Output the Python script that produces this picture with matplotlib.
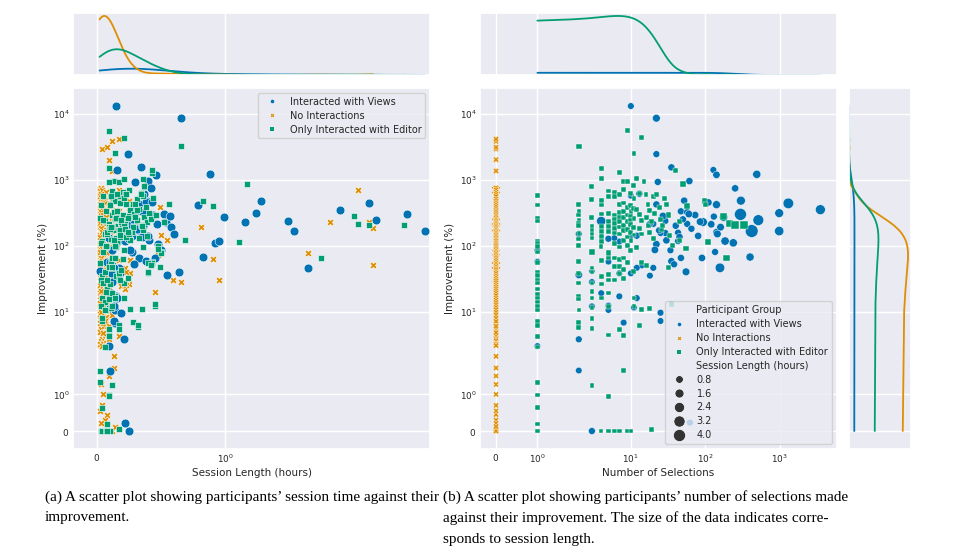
import numpy as np
import pandas as pd
import matplotlib
matplotlib.use("Agg")
import matplotlib.pyplot as plt
from matplotlib.lines import Line2D
import seaborn as sns

sns.set_theme(style="darkgrid")
plt.rcParams["font.family"] = ["DejaVu Sans"]
plt.rcParams["xtick.labelsize"] = 6.4
plt.rcParams["ytick.labelsize"] = 6.4
plt.rcParams["axes.labelsize"] = 7.5
plt.rcParams["legend.fontsize"] = 7.0
plt.rcParams["legend.labelspacing"] = 0.4
plt.rcParams["xtick.major.size"] = 0
plt.rcParams["ytick.major.size"] = 0
plt.rcParams["xtick.minor.size"] = 0
plt.rcParams["ytick.minor.size"] = 0
plt.rcParams["xtick.major.pad"] = 2.5
plt.rcParams["ytick.major.pad"] = 2.5

groups = ["Interacted with Views", "No Interactions", "Only Interacted with Editor"]
group_colors = ["#0173b2", "#de8f05", "#029e73"]
group_markers = ["o", "X", "s"]
size_legend_values = [0.8, 1.6, 2.4, 3.2, 4.0]

# ---------------- Interacted with Views ----------------
views_session = [
    0.15, 0.66, 0.24, 0.34, 0.30, 0.40, 0.16, 0.46, 0.885, 0.42,
    1.28, 0.39, 2.35, 1.90, 1.24, 3.43, 2.51, 4.10, 1.54, 1.65,
    0.83, 0.92, 0.95, 1.16, 0.79, 0.99, 1.49, 0.28, 0.35, 0.27,
    0.45, 0.33, 0.64, 0.22, 0.31, 0.36, 0.44, 0.25, 0.20, 0.38,
    0.29, 0.26, 0.41, 0.23, 0.19, 0.30, 0.21, 0.32, 0.48, 0.50,
    0.17, 0.14, 0.12, 0.13, 0.27, 0.18, 0.12, 0.37, 0.33, 0.20,
    0.11, 0.10, 0.16, 0.14, 0.15, 0.18, 0.09, 0.25, 0.08, 0.13,
    0.14, 0.11, 0.12, 0.13, 0.25, 0.55, 0.21, 0.10, 0.12, 0.10,
    0.09, 0.22, 0.185, 0.13, 0.38, 0.43, 0.52, 0.20, 0.36, 0.28,
    0.31, 0.40, 0.35, 0.54, 0.47, 0.58, 0.60, 0.16, 0.02, 0.57,
]
views_selections = [
    10, 22, 22, 35, 23, 61, 128, 141, 490, 251,
    300, 52, 1300, 3500, 980, 296, 514, 419, 980, 157,
    398, 237, 184, 93, 141, 176, 4, 130, 141, 135,
    90, 47, 55, 43, 47, 57, 73, 57, 43, 35,
    38, 34, 30, 29, 25, 29, 20, 24, 22, 21,
    20, 18, 14, 12, 12, 10, 10, 13, 22, 18,
    10, 11, 7, 8, 7, 7, 6, 5, 5, 5,
    5, 4, 3, 3, 3, 2, 2, 2, 1, 1,
    1, 62, 25, 25, 100, 110, 60, 2, 40, 50,
    65, 80, 45, 85, 120, 160, 145, 12, 3, 27,
]
views_improvement = [
    13000, 8500, 2430, 1530, 920, 950, 1400, 1180, 1200, 736,
    479, 479, 436, 350, 310, 297, 243, 166, 166, 46,
    67, 110, 117, 227, 417, 268, 235, 275, 160, 80,
    65, 65, 40, 117, 330, 320, 290, 213, 157, 58,
    52, 85, 120, 155, 155, 237, 213, 170, 105, 86,
    46, 35, 50, 46, 141, 141, 570, 610, 420, 213,
    38, 11.5, 115, 6.8, 17, 38, 130, 127, 57, 12.3,
    10.6, 19, 28, 12, 0, 36, 3.8, 1.65, 85, 57,
    3.0, 0.23, 9.6, 7.2, 450, 450, 300, 150, 200, 250,
    180, 140, 135, 230, 210, 190, 150, 16, 41, 280,
]

# ---------------- No Interactions (all at 0 selections) ----------------
none_session = [
    0.04, 0.08, 0.12, 0.17, 0.09, 0.12, 0.17, 0.16, 0.25, 0.25,
    0.23, 0.10,
    2.11, 1.82, 2.45, 2.35, 2.45, 1.65, 0.81, 0.91, 0.95, 0.59,
    0.66, 0.45, 0.48, 0.49, 0.50, 0.55,
    0.31, 0.26, 0.26, 0.25, 0.19, 0.17, 0.135, 0.09, 0.09, 0.09,
    0.08, 0.17, 0.17, 0.17, 0.13, 0.17, 0.17, 0.18, 0.22, 0.23,
    0.22, 0.23, 0.13, 0.11, 0.14, 0.10, 0.15, 0.12, 0.14, 0.11,
    0.13, 0.10,
    0.03, 0.05, 0.04, 0.06, 0.03, 0.02, 0.03, 0.05, 0.07, 0.12,
    0.17, 0.09, 0.14,
    0.02, 0.04, 0.02, 0.05, 0.03, 0.06, 0.02, 0.04, 0.07, 0.03,
    0.02, 0.05, 0.02, 0.08, 0.04, 0.03, 0.06, 0.02, 0.05, 0.02,
    0.04, 0.07, 0.03, 0.02, 0.06, 0.04, 0.02, 0.05, 0.03, 0.08,
    0.02, 0.04, 0.06, 0.03, 0.02, 0.05, 0.02, 0.07, 0.04, 0.03,
    0.06, 0.02, 0.05, 0.02, 0.04, 0.03, 0.08, 0.02, 0.06, 0.04,
    0.03, 0.05, 0.02, 0.07, 0.02, 0.04, 0.06, 0.03, 0.05, 0.02,
    0.04, 0.02, 0.06, 0.03, 0.05, 0.02, 0.04, 0.07, 0.03, 0.02,
    0.05, 0.04, 0.03, 0.02,
    0.03, 0.02, 0.05, 0.02, 0.04, 0.06, 0.03, 0.02, 0.05, 0.04,
    0.02, 0.07, 0.03, 0.05, 0.02, 0.04, 0.06, 0.03, 0.02, 0.05,
    0.02, 0.04, 0.08, 0.03, 0.05, 0.02, 0.06, 0.04, 0.02, 0.03,
    0.05, 0.02, 0.07, 0.04, 0.03, 0.06, 0.02, 0.05, 0.02, 0.04,
    0.03, 0.06, 0.02, 0.05, 0.04, 0.02, 0.03, 0.07, 0.02, 0.05,
    0.04, 0.03, 0.06, 0.02, 0.04, 0.05, 0.02, 0.03, 0.06, 0.02,
    0.04, 0.05, 0.03, 0.02, 0.07, 0.04, 0.02, 0.05, 0.03, 0.02,
    0.06, 0.04, 0.03, 0.05, 0.02, 0.04, 0.10, 0.11, 0.09, 0.10,
    0.04, 0.07, 0.03, 0.10, 0.05, 0.12, 0.06, 0.02, 0.09, 0.04,
    0.08, 0.03, 0.11, 0.05, 0.07, 0.13, 0.04, 0.06, 0.02, 0.09,
    0.05, 0.10, 0.03, 0.07, 0.12, 0.04, 0.08, 0.06, 0.02, 0.11,
    0.05, 0.09, 0.03, 0.07, 0.14, 0.04, 0.06, 0.10, 0.02, 0.08,
    0.05, 0.12, 0.03, 0.07, 0.04, 0.09, 0.06, 0.11, 0.02, 0.05,
    0.08, 0.03, 0.10, 0.06, 0.04, 0.13, 0.07, 0.02, 0.09, 0.05,
    0.03, 0.11, 0.06, 0.04, 0.08, 0.02, 0.10, 0.05, 0.07, 0.03,
    0.12, 0.04, 0.06, 0.09, 0.05,
]
none_improvement = [
    2900, 3100, 3800, 4100, 2000, 1350, 690, 490, 480, 370,
    225, 300,
    692, 230, 185, 230, 50, 78, 190, 62, 30, 30,
    28, 20, 73, 380, 145, 122,
    64, 61, 38, 26, 24, 4.3, 1.72, 1.5, 3.8, 6.3,
    0.45, 500, 330, 260, 200, 190, 60, 33, 45, 40,
    22, 25, 250, 160, 95, 45, 340, 120, 14, 9,
    2.1, 17,
    1.27, 1.0, 0.7, 0.3, 0.21, 0.55, 0, 0, 0, 0,
    0.05, 0, 0.12,
    720, 660, 615, 590, 545, 505, 470, 440, 400, 372,
    350, 318, 302, 284, 268, 252, 241, 226, 214, 203,
    196, 184, 176, 168, 157, 149, 143, 133, 127, 119,
    111, 106, 98, 94, 87, 82, 79, 72, 70, 64,
    62, 56, 53, 50, 46, 43, 39, 37, 34, 32,
    29, 27, 25.5, 23, 21, 19.5, 18, 16.3, 15.2, 13.6,
    12.4, 11.3, 10.4, 9.6, 8.6, 7.8, 7.2, 6.5, 5.8, 5.0,
    4.6, 4.0, 3.5, 3.1,
    750, 680, 630, 570, 520, 480, 455, 415, 385, 360,
    335, 310, 292, 276, 262, 246, 233, 220, 209, 199,
    189, 179, 171, 162, 153, 146, 138, 130, 123, 116,
    109, 102, 96, 90, 85, 80, 75, 71, 67, 63,
    59, 55, 52, 48, 45, 42, 40, 36, 33, 31,
    28, 26, 24, 22, 20, 18.5, 17, 15.8, 14.5, 13.2,
    12, 11, 10, 9.1, 8.3, 7.5, 6.8, 6.1, 5.5, 4.9,
    4.4, 3.8, 3.6, 3.3, 3.2, 3.05, 160, 240, 95, 58,
    700, 640, 600, 555, 510, 475, 445, 420, 392, 366,
    342, 325, 305, 288, 272, 258, 245, 234, 222, 211,
    201, 192, 182, 173, 165, 158, 150, 144, 136, 129,
    122, 117, 110, 104, 99, 93, 89, 84, 80, 76,
    72, 68, 65, 61, 58, 54, 51, 48, 45, 43,
    40, 38, 35, 33, 31, 29, 27, 25, 23.5, 22,
    20.5, 19, 17.5, 16, 14.8, 13.7, 12.6, 11.6, 10.7, 9.8,
    8.9, 8.0, 7.1, 6.0, 4.8,
]
none_selections = [0] * len(none_improvement)

# ---------------- Only Interacted with Editor ----------------
editor_selections = [
    1, 1, 1, 1, 1, 1, 1, 1, 1, 1, 1, 1, 1, 1, 1, 1, 1, 1, 1, 1, 1, 1, 1, 1, 1, 1, 1, 1,
    2, 2, 2, 2, 2, 2, 2, 2, 2, 2, 2, 2, 2, 2, 2, 2, 2, 2,
    3, 3, 3, 3, 3, 3, 3, 3, 3, 3, 3, 3, 3, 3, 3, 3, 3,
    4, 4, 4, 4, 4, 4, 4, 4, 4, 4, 4, 4, 4, 4, 4,
    5, 5, 5, 5, 5, 5, 5, 5, 5, 5, 5, 5, 5, 5, 5,
    6, 6, 6, 6, 6, 6, 6, 6, 6, 6, 6, 6,
    7, 7, 7, 7, 7, 7, 7, 7, 7, 7, 7, 7, 7, 7,
    8, 8, 8, 8, 8, 8, 8, 8, 8, 8, 8, 8, 8,
    9, 9, 9, 9, 9, 9, 9, 9, 9, 9,
    10, 10, 10, 10, 10, 10, 10, 10, 10, 10,
    11, 11, 11, 11, 11, 11, 11, 11, 11, 11,
    12, 12, 13, 13, 13, 14, 14, 14, 14, 12, 13, 14,
    15, 16, 16, 17, 17, 18, 18, 18, 19, 20, 20, 21, 19, 16,
    22, 24, 25, 26, 28, 30, 32, 33, 35, 36, 27, 32,
    40, 50, 57, 45, 55,
    97, 100, 210, 250, 330, 190, 175, 110, 45,
]
editor_improvement = [
    569, 412, 258, 237, 117, 108, 96, 80, 55, 40, 35, 30, 27, 22, 18, 16, 14, 12,
    10.5, 7.1, 6.2, 4.2, 2.9, 1.33, 0.98, 0.64, 0.19, 0,
    3200, 421, 330, 290, 240, 215, 200, 152, 125, 100, 57, 38, 27, 17, 15.5, 10.5, 6.9, 5.8,
    780, 500, 270, 193, 170, 150, 130, 80, 46, 40, 27, 20, 16, 11.4, 7.9, 5.5, 1.25,
    1480, 1030, 480, 410, 300, 193, 162, 137, 116, 97, 59, 34, 26, 16, 0,
    670, 560, 305, 232, 193, 162, 77, 65, 36, 30, 19, 12, 4.4, 0.95, 0,
    640, 560, 290, 250, 215, 180, 155, 108, 65, 48, 30, 0,
    1270, 600, 420, 320, 270, 230, 190, 150, 95, 62, 48, 38, 5.4, 0,
    940, 700, 440, 330, 265, 200, 170, 120, 65, 43, 32, 4.3, 1.65,
    5500, 930, 380, 290, 235, 175, 135, 100, 55, 0,
    610, 400, 330, 280, 245, 205, 160, 120, 85, 0,
    2500, 800, 520, 360, 260, 190, 145, 40, 16, 12,
    1030, 350, 620, 300, 180, 4300, 240, 150, 10.8, 95, 6.2, 55,
    930, 600, 270, 420, 200, 340, 160, 11, 230, 560, 130, 310, 0.05, 50,
    600, 380, 250, 175, 520, 420, 290, 140, 13, 100, 200, 47,
    1380, 860, 400, 230, 90,
    470, 420, 215, 205, 205, 65, 280, 113, 120,
]
editor_session = [
    0.05, 0.03, 0.02, 0.06, 0.04, 0.03, 0.07, 0.05, 0.02, 0.06, 0.04, 0.03, 0.05, 0.08,
    0.09, 0.04, 0.06, 0.03, 0.07, 0.04, 0.17, 0.09, 0.06, 0.02, 0.09, 0.04, 0.08, 0.03,
    0.66, 0.10, 0.07, 0.12, 0.05, 0.09, 0.14, 0.06, 0.11, 0.08, 0.43, 0.40, 0.21, 0.14, 0.09, 0.06, 0.28, 0.32,
    0.37, 0.31, 0.37, 0.10, 0.13, 0.08, 0.15, 0.50, 0.12, 0.06, 0.21, 0.07, 0.21, 0.11, 0.04, 0.09, 0.12,
    0.09, 0.36, 0.14, 0.10, 0.16, 0.12, 0.08, 0.18, 0.13, 0.07, 0.11, 0.15, 0.10, 0.14, 0.06,
    0.12, 0.18, 0.15, 0.21, 0.09, 0.26, 0.50, 0.13, 0.17, 0.08, 0.12, 0.45, 0.09, 0.09, 0.05,
    0.20, 0.11, 0.27, 0.14, 0.22, 0.10, 0.19, 0.16, 0.12, 0.09, 0.18, 0.04,
    0.43, 0.16, 0.23, 0.13, 0.28, 0.19, 0.11, 0.24, 0.15, 0.20, 0.12, 0.17, 0.17, 0.07,
    0.13, 0.25, 0.18, 0.29, 0.15, 0.21, 0.17, 0.26, 0.14, 0.19, 0.24, 0.09, 0.02,
    0.09, 0.17, 0.27, 0.20, 0.31, 0.18, 0.23, 0.14, 0.43, 0.10,
    0.22, 0.30, 0.16, 0.25, 0.19, 0.34, 0.27, 0.13, 0.21, 0.08,
    0.14, 0.37, 0.21, 0.33, 0.24, 0.28, 0.18, 0.40, 0.14, 0.12,
    0.21, 0.26, 0.34, 0.29, 0.22, 0.21, 0.31, 0.25, 0.35, 0.36, 0.32, 0.40,
    0.09, 0.23, 0.30, 0.28, 0.35, 0.31, 0.24, 0.26, 0.39, 0.36, 0.33, 0.41, 0.17, 0.42,
    0.34, 0.38, 0.42, 0.36, 0.44, 0.30, 0.46, 0.39, 0.45, 0.48, 0.35, 0.49,
    0.43, 1.17, 0.91, 0.52, 0.48,
    0.83, 0.56, 2.10, 2.35, 3.34, 1.75, 2.03, 1.11, 0.69,
]

caption_a = ["(a) A scatter plot showing participants\u2019 session time against their",
             "improvement."]
caption_b = ["(b) A scatter plot showing participants\u2019 number of selections made",
             "against their improvement. The size of the data indicates corre-",
             "sponds to session length."]

# ---------------- data frame ----------------
frames = []
for g, s, n, v in [(groups[0], views_session, views_selections, views_improvement),
                   (groups[1], none_session, none_selections, none_improvement),
                   (groups[2], editor_session, editor_selections, editor_improvement)]:
    frames.append(pd.DataFrame({"group": g, "session": s, "selections": n, "improvement": v}))
df = pd.concat(frames, ignore_index=True)
palette = dict(zip(groups, group_colors))
marker_map = dict(zip(groups, group_markers))
n_total = len(df)

smin, smax = df["session"].min(), df["session"].max()


def size_area(s):
    return 18 + 54 * (np.asarray(s) - smin) / (smax - smin)


def group_kde(values):
    """Gaussian KDE (Scott bandwidth, cut=0), scaled by group share (common norm)."""
    x = np.asarray(values, dtype=float)
    n = len(x)
    sd = np.std(x, ddof=1) if n > 1 else 0.0
    if sd == 0:
        return None, None
    bw = sd * n ** (-1 / 5)
    grid = np.linspace(x.min(), x.max(), 400)
    dens = np.exp(-0.5 * ((grid[:, None] - x[None, :]) / bw) ** 2).sum(axis=1)
    dens = dens / (n * bw * np.sqrt(2 * np.pi)) * (n / n_total)
    return grid, dens


fig = plt.figure(figsize=(9.6, 5.54), dpi=100)
fig.patch.set_facecolor("white")


def ax_px(x0, y0, x1, y1, **kw):
    return fig.add_axes([x0 / 960, 1 - y1 / 554, (x1 - x0) / 960, (y1 - y0) / 554], **kw)


ax_a = ax_px(73, 88, 430, 449)
ax_a_top = ax_px(73, 13, 430, 75, sharex=ax_a)
ax_b = ax_px(480, 88, 837, 449)
ax_b_top = ax_px(480, 13, 837, 75, sharex=ax_b)
ax_b_right = ax_px(849, 88, 911, 449, sharey=ax_b)

for ax in (ax_a, ax_b):
    ax.set_xscale("symlog")
    ax.set_yscale("symlog")

# ---------------- panel (a) scatter ----------------
left_sizes = {groups[0]: 40, groups[1]: 26, groups[2]: 16}
draw_order = [groups[1], groups[0], groups[2]]
for g in draw_order:
    d = df[df["group"] == g]
    ax_a.scatter(d["session"], d["improvement"], s=left_sizes[g], c=palette[g],
                 marker=marker_map[g], edgecolors="white", linewidths=0.4, zorder=3)

# ---------------- panel (b) scatter ----------------
size_factor = {groups[0]: 1.17, groups[1]: 1.0, groups[2]: 0.58}
for g in draw_order:
    d = df[df["group"] == g]
    ax_b.scatter(d["selections"], d["improvement"], s=size_factor[g] * size_area(d["session"]),
                 c=palette[g], marker=marker_map[g], edgecolors="white", linewidths=0.3, zorder=3)

# ---------------- marginal KDEs (linear-space density on symlog axes) ----------------
for g in groups:
    d = df[df["group"] == g]
    gx, dx = group_kde(d["session"])
    if gx is not None:
        ax_a_top.plot(gx, dx, color=palette[g], lw=1.3)
    gx, dx = group_kde(d["selections"])
    if gx is not None:
        ax_b_top.plot(gx, dx, color=palette[g], lw=1.3)
    gy, dy = group_kde(d["improvement"])
    if gy is not None:
        ax_b_right.plot(dy, gy, color=palette[g], lw=1.3)

for ax in (ax_a_top, ax_b_top):
    ax.tick_params(labelbottom=False, labelleft=False, length=0)
    ax.yaxis.grid(False)
    ymax = max(l.get_ydata().max() for l in ax.lines)
    ax.set_ylim(0, ymax * 1.05)
ax_b_right.tick_params(labelbottom=False, labelleft=False, length=0)
ax_b_right.xaxis.grid(False)
xmax = max(l.get_xdata().max() for l in ax_b_right.lines)
ax_b_right.set_xlim(0, xmax * 1.05)

# ---------------- limits & labels ----------------
ax_a.set_xlim(-0.1875, 4.32)
ax_a.set_ylim(-0.49, 24400)
ax_b.set_xlim(-0.387, 5850)
ax_b.set_ylim(-0.49, 24400)
ax_a.set_xlabel("Session Length (hours)", labelpad=2)
ax_a.set_ylabel("Improvement (%)", labelpad=3)
ax_b.set_xlabel("Number of Selections", labelpad=2)
ax_b.set_ylabel("Improvement (%)", labelpad=3)
ax_b.tick_params(labelleft=True)

# ---------------- legends ----------------
hue_handles = [Line2D([], [], linestyle="", marker=m, markersize=2.6, markerfacecolor=c,
                      markeredgewidth=0, color=c) for c, m in zip(group_colors, group_markers)]
ax_a.legend(hue_handles, groups, loc="upper right")

blank = Line2D([], [], linestyle="", marker="")
size_handles = [Line2D([], [], linestyle="", marker="o",
                       markersize=1.044 * np.sqrt(size_area(v)), markerfacecolor="0.2",
                       markeredgecolor="white", markeredgewidth=0.5) for v in size_legend_values]
handles_b = [blank] + hue_handles + [blank] + size_handles
labels_b = ["Participant Group"] + groups + ["Session Length (hours)"] + \
           [f"{v:.1f}" for v in size_legend_values]
ax_b.legend(handles_b, labels_b, loc="lower right")

# ---------------- captions ----------------
cap_font = dict(family=["Liberation Serif", "DejaVu Serif"], fontsize=11, color="black",
                va="center", ha="left")
for i, line in enumerate(caption_a):
    fig.text(45 / 960, 1 - (497 + 21 * i) / 554, line, **cap_font)
for i, line in enumerate(caption_b):
    fig.text(443 / 960, 1 - (497 + 21 * i) / 554, line, **cap_font)

fig.savefig("out.png", dpi=100, facecolor="white")
